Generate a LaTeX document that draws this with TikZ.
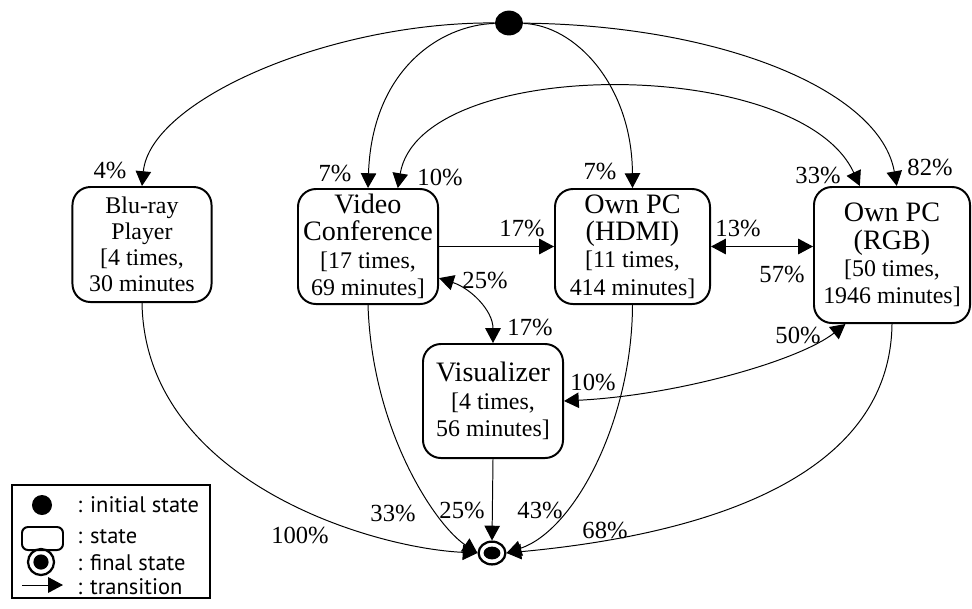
\documentclass[tikz,border=0pt]{standalone}
\usepackage{fontspec}
\setmainfont{Liberation Serif}
\newfontfamily\legendfont{PT Sans}
\usetikzlibrary{arrows.meta, shapes.geometric}
\newcommand{\info}[1]{{\fontsize{17}{19.5}\selectfont #1}}
\tikzset{state/.style={draw, rounded corners=0.45cm, line width=1.4pt,
                       align=center, inner sep=0pt,
                       font=\fontsize{20}{19.5}\selectfont},
         trans/.style={-{Triangle[length=10.5pt, width=11pt]}, line width=0.7pt},
         both/.style={{Triangle[length=10.5pt, width=11pt]}-{Triangle[length=10.5pt, width=11pt]},
                      line width=0.7pt},
         pct/.style={inner sep=0pt, font=\fontsize{17.5}{20}\selectfont},
         lgtext/.style={anchor=west, inner sep=0pt,
                        font=\legendfont\fontsize{16}{19}\selectfont}}

\begin{document}
\begin{tikzpicture}[x=0.025cm, y=-0.025cm]
      \useasboundingbox (0, 0) rectangle (972, 608);
      \draw node[ellipse, fill, minimum width=0.7cm, minimum height=0.62cm, inner sep=0pt] (init) at (509, 23) {};
      \draw node[state, minimum width=3.475cm, minimum height=2.875cm,
                 font=\fontsize{17}{18.5}\selectfont] (blu) at (142, 244.5)
            {Blu-ray\\Player\\\info{[4 times,}\\\info{30 minutes}};
      \draw node[state, minimum width=3.5cm, minimum height=2.875cm] (vc) at (368, 246.5)
            {Video\\Conference\\\info{[17 times,}\\\info{69 minutes]}};
      \draw node[state, minimum width=3.875cm, minimum height=2.875cm] (hdmi) at (632.5, 246.5)
            {Own PC\\(HDMI)\\\info{[11 times,}\\\info{414 minutes]}};
      \draw node[state, minimum width=3.9cm, minimum height=3.4cm] (rgb) at (892, 255)
            {Own PC\\(RGB)\\\info{[50 times,}\\\info{1946 minutes]}};
      \draw node[state, minimum width=3.5cm, minimum height=2.85cm] (vis) at (493, 401)
            {Visualizer\\\info{[4 times,}\\\info{56 minutes]}};
      \draw node[ellipse, draw, line width=1.6pt, minimum width=0.67cm, minimum height=0.57cm,
                 inner sep=0pt, path picture={\fill (path picture bounding box.center)
                 ellipse (0.21cm and 0.16cm);}] (final) at (492, 553) {};

      \draw[trans] (init) .. controls (330, 22) and (150, 100) .. (blu.north);
      \draw[trans] (init) .. controls (440, 25) and (372, 70) .. (vc.north);
      \draw[trans] (init) .. controls (575, 25) and (632, 85) .. (hdmi.north);
      \draw[trans] (init) .. controls (720, 25) and (880, 90) .. (rgb.86);
      \draw[both] (vc.63) .. controls (420, 55) and (800, 55) .. (rgb.115);
      \draw[trans] (vc.east) -- (hdmi.west);
      \draw[both] (hdmi.east) -- (hdmi.east -| rgb.west);
      \draw[both] (vc.-24) .. controls (470, 288) and (493, 310) .. (vis.north);
      \draw[both] (vis.east) .. controls (680, 395) and (800, 360) .. (rgb.236);
      \draw[trans] (blu.south) .. controls (145, 480) and (370, 548) .. (final.west);
      \draw[trans] (vc.south) .. controls (372, 430) and (435, 525) .. (final.west);
      \draw[trans] (vis.south) -- (final.north);
      \draw[trans] (hdmi.south) .. controls (632, 420) and (575, 530) .. (final.east);
      \draw[trans] (rgb.south) .. controls (890, 480) and (700, 535) .. (final.east);

      \node[pct] (p1) at (110, 170) {4\%};
      \node[pct] (p2) at (335, 173) {7\%};
      \node[pct] (p3) at (440, 177) {10\%};
      \node[pct] (p4) at (600, 171) {7\%};
      \node[pct] (p5) at (818, 175) {33\%};
      \node[pct] (p6) at (930, 167) {82\%};
      \node[pct] (p7) at (522, 228) {17\%};
      \node[pct] (p8) at (738, 228) {13\%};
      \node[pct] (p9) at (782, 274) {57\%};
      \node[pct] (p10) at (485, 280) {25\%};
      \node[pct] (p11) at (530, 327) {17\%};
      \node[pct] (p12) at (593, 382) {10\%};
      \node[pct] (p13) at (798, 335) {50\%};
      \node[pct] (p14) at (300, 535) {100\%};
      \node[pct] (p15) at (393, 513) {33\%};
      \node[pct] (p16) at (462, 510) {25\%};
      \node[pct] (p17) at (540, 510) {43\%};
      \node[pct] (p18) at (605, 530) {68\%};

      \draw node[draw, line width=1.2pt, minimum width=4.95cm, minimum height=2.825cm] (legend) at (111, 541.5) {};
      \draw node[circle, fill, minimum size=0.5cm, inner sep=0pt] (lginit) at (42, 505) {};
      \draw node[draw, rounded corners=0.15cm, line width=1.4pt, minimum width=1.025cm,
                 minimum height=0.575cm] (lgstate) at (42.5, 538.5) {};
      \draw node[circle, draw, line width=1.6pt, minimum size=0.65cm, inner sep=0pt,
                 path picture={\fill (path picture bounding box.center) circle (0.19cm);}] (lgfinal) at (41, 562) {};
      \coordinate (lga) at (22, 585);
      \coordinate (lgb) at (63, 585);
      \draw[trans] (lga) -- (lgb);
      \node[lgtext] (t1) at (77, 505) {: initial state};
      \node[lgtext] (t2) at (77, 537) {: state};
      \node[lgtext] (t3) at (77, 563) {: final state};
      \node[lgtext] (t4) at (77, 587) {: transition};
    \end{tikzpicture}
\end{document}
